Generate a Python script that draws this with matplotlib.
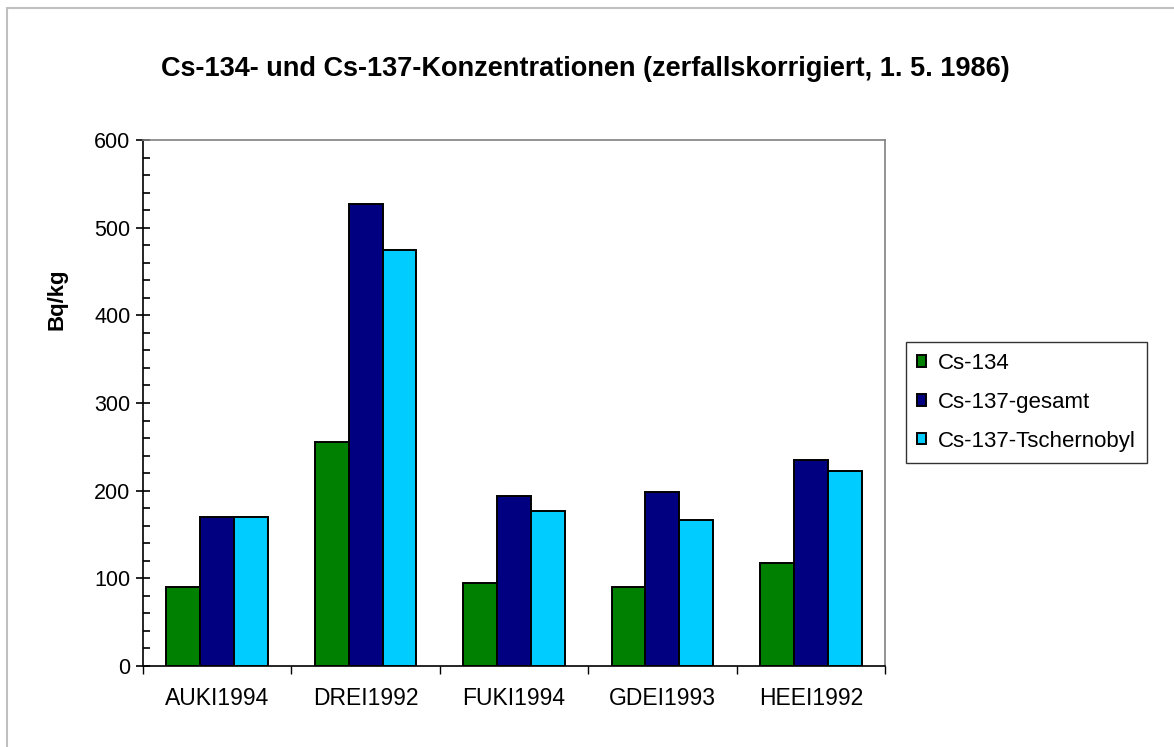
import matplotlib
matplotlib.use("Agg")
import matplotlib.pyplot as plt
import numpy as np
from matplotlib.patches import Rectangle
from matplotlib.ticker import MultipleLocator, FixedLocator

categories = ["AUKI1994", "DREI1992", "FUKI1994", "GDEI1993", "HEEI1992"]
series_names = ["Cs-134", "Cs-137-gesamt", "Cs-137-Tschernobyl"]
cs134 = [90, 256, 95, 90, 118]
cs137_gesamt = [170, 527, 194, 198, 235]
cs137_tschernobyl = [170, 474, 177, 166, 222]
colors = ["#008000", "#000080", "#00CCFF"]

plt.rcParams["font.family"] = ["Liberation Sans", "DejaVu Sans"]

fig = plt.figure(figsize=(11.74, 7.47), dpi=100)
fig.patch.set_facecolor("white")

# outer chart frame (top and left visible)
fig.add_artist(Rectangle((7 / 1174, -0.01), 1.2, 1 - 8 / 747 + 0.01,
                         transform=fig.transFigure, fill=False,
                         edgecolor="#c0c0c0", linewidth=1.5))

ax = fig.add_axes([143 / 1174, 1 - 666 / 747, (885 - 143) / 1174, (666 - 140) / 747])

x = np.arange(len(categories))
w = 0.228
for i, (vals, name) in enumerate(zip([cs134, cs137_gesamt, cs137_tschernobyl], series_names)):
    ax.bar(x + (i - 1) * w, vals, width=w, color=colors[i], edgecolor="black",
           linewidth=1.4, label=name, zorder=3)

ax.set_xlim(-0.5, len(categories) - 0.5)
ax.set_ylim(0, 600)
ax.yaxis.set_major_locator(MultipleLocator(100))
ax.yaxis.set_minor_locator(MultipleLocator(20))
ax.tick_params(axis="y", which="major", direction="inout", length=10, width=1.2,
               labelsize=15.5, pad=4)
ax.tick_params(axis="y", which="minor", direction="in", length=5, width=1.2)

ax.set_xticks(x)
ax.set_xticklabels(categories)
ax.xaxis.set_minor_locator(FixedLocator(np.arange(-0.5, len(categories), 1.0)))
ax.tick_params(axis="x", which="major", length=0, labelsize=16.5, pad=15)
ax.tick_params(axis="x", which="minor", direction="out", length=6, width=1)

for s in ["left", "bottom"]:
    ax.spines[s].set_color("black")
    ax.spines[s].set_linewidth(1.2)
for s in ["top", "right"]:
    ax.spines[s].set_color("#808080")
    ax.spines[s].set_linewidth(1.2)

fig.text(585 / 1174, 1 - 69 / 747,
         "Cs-134- und Cs-137-Konzentrationen (zerfallskorrigiert, 1. 5. 1986)",
         ha="center", va="center", fontsize=19.5, fontweight="bold")
fig.text(57 / 1174, 1 - 299 / 747, "Bq/kg", rotation=90, ha="center", va="center",
         fontsize=16, fontweight="bold")

leg = fig.legend(loc="upper left", bbox_to_anchor=(906 / 1174, 1 - 342 / 747),
                 fontsize=16, frameon=True, fancybox=False, edgecolor="black",
                 handlelength=0.42, handleheight=0.42, handletextpad=0.5,
                 labelspacing=0.8, borderpad=0.5, borderaxespad=0)
leg.get_frame().set_linewidth(1)

fig.savefig("out.png", dpi=100, facecolor="white")
